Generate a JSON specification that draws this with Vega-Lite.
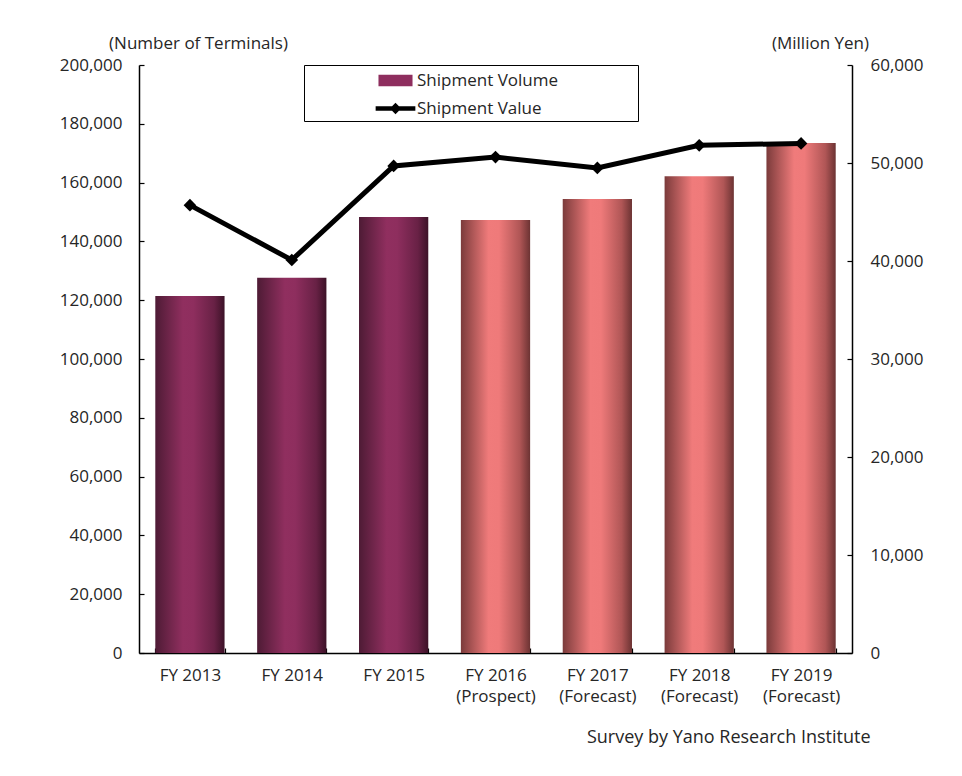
{
  "$schema": "https://vega.github.io/schema/vega-lite/v6.json",
  "width": 713,
  "height": 588,
  "autosize": {"type": "none"},
  "padding": {"left": 139, "top": 65, "right": 110, "bottom": 123},
  "background": "white",
  "data": {
    "values": [
      {"year": "FY 2013", "phase": "Actual", "volume": 121400, "value": 45700},
      {"year": "FY 2014", "phase": "Actual", "volume": 127600, "value": 40100},
      {"year": "FY 2015", "phase": "Actual", "volume": 148300, "value": 49700},
      {"year": "FY 2016|(Prospect)", "phase": "Outlook", "volume": 147300, "value": 50600},
      {"year": "FY 2017|(Forecast)", "phase": "Outlook", "volume": 154400, "value": 49500},
      {"year": "FY 2018|(Forecast)", "phase": "Outlook", "volume": 162200, "value": 51800},
      {"year": "FY 2019|(Forecast)", "phase": "Outlook", "volume": 173500, "value": 52000}
    ]
  },
  "encoding": {
    "x": {
      "field": "year",
      "type": "nominal",
      "sort": null,
      "scale": {"paddingInner": 0.32, "paddingOuter": 0.16},
      "axis": {
        "title": "Survey by Yano Research Institute",
        "titleX": 731,
        "titleY": 89,
        "titleAlign": "right",
        "titleBaseline": "alphabetic",
        "titleAnchor": null,
        "titleFontSize": 18,
        "labelAngle": 0,
        "labelExpr": "split(datum.label, '|')",
        "labelLineHeight": 21,
        "labelPadding": 19,
        "tickBand": "extent",
        "tickSize": -5
      }
    }
  },
  "layer": [
    {
      "encoding": {
        "y": {
          "field": "volume",
          "type": "quantitative",
          "scale": {"domain": [0, 200000], "nice": false},
          "axis": {
            "title": "(Number of Terminals)",
            "titleAngle": 0,
            "titleX": 59,
            "titleY": -17,
            "titleAlign": "center",
            "titleBaseline": "alphabetic",
            "values": [0, 20000, 40000, 60000, 80000, 100000, 120000, 140000, 160000, 180000, 200000],
            "format": ",d",
            "tickSize": -5,
            "labelPadding": 22
          }
        }
      },
      "layer": [
        {
          "transform": [{"filter": "datum.phase === 'Actual'"}],
          "mark": {
            "type": "bar",
            "color": {
              "gradient": "linear",
              "x1": 0, "x2": 1, "y1": 0, "y2": 0,
              "stops": [
                {"offset": 0, "color": "#4E1B35"},
                {"offset": 0.4, "color": "#902F5F"},
                {"offset": 0.55, "color": "#8E2E5E"},
                {"offset": 0.85, "color": "#682145"},
                {"offset": 1, "color": "#3C1227"}
              ]
            }
          }
        },
        {
          "transform": [{"filter": "datum.phase === 'Outlook'"}],
          "mark": {
            "type": "bar",
            "color": {
              "gradient": "linear",
              "x1": 0, "x2": 1, "y1": 0, "y2": 0,
              "stops": [
                {"offset": 0, "color": "#7B3B3B"},
                {"offset": 0.4, "color": "#F07B7B"},
                {"offset": 0.55, "color": "#EF7A7A"},
                {"offset": 0.85, "color": "#B05656"},
                {"offset": 1, "color": "#6C3333"}
              ]
            }
          }
        }
      ]
    },
    {
      "encoding": {
        "y": {
          "field": "value",
          "type": "quantitative",
          "scale": {"domain": [0, 60000], "nice": false},
          "axis": {
            "orient": "right",
            "title": "(Million Yen)",
            "titleAngle": 0,
            "titleX": -32,
            "titleY": -17,
            "titleAlign": "center",
            "titleBaseline": "alphabetic",
            "values": [0, 10000, 20000, 30000, 40000, 50000, 60000],
            "format": ",d",
            "tickSize": -5,
            "labelPadding": 23
          }
        },
        "color": {
          "datum": "Shipment Value",
          "type": "nominal",
          "scale": {"domain": ["Shipment Volume", "Shipment Value"], "range": ["#8E2E5E", "#000000"]},
          "legend": {
            "orient": "none",
            "legendX": 165,
            "legendY": 0,
            "title": null,
            "strokeColor": "#000000",
            "fillColor": "white",
            "padding": 4,
            "symbolOffset": 76,
            "labelOffset": 10,
            "rowPadding": 8,
            "labelFontSize": 17,
            "labelLimit": 400,
            "symbolSize": 515,
            "labelExpr": "datum.label + '\u00a0\u00a0\u00a0\u00a0\u00a0\u00a0\u00a0\u00a0\u00a0\u00a0\u00a0\u00a0\u00a0\u00a0\u00a0\u00a0\u00a0\u200b'",
            "encode": {
              "symbols": {
                "update": {
                  "shape": [
                    {"test": "datum.value === 'Shipment Value'", "value": "M-1.75,-0.2H1.75V0.2H-1.75Z M0,-0.5L0.5,0L0,0.5L-0.5,0Z"},
                    {"value": "M-1.5,-0.5H1.5V0.5H-1.5Z"}
                  ],
                  "fill": [
                    {"test": "datum.value === 'Shipment Value'", "value": "#000000"},
                    {"value": {
                      "gradient": "linear",
                      "x1": 0, "x2": 1, "y1": 0, "y2": 0,
                      "stops": [
                        {"offset": 0, "color": "#4E1B35"},
                        {"offset": 0.45, "color": "#902F5F"},
                        {"offset": 1, "color": "#3C1227"}
                      ]
                    }}
                  ],
                  "stroke": {"value": "transparent"},
                  "strokeWidth": {"value": 0},
                  "opacity": {"value": 1},
                  "fillOpacity": {"value": 1}
                }
              }
            }
          }
        }
      },
      "layer": [
        {"mark": {"type": "line", "strokeWidth": 5}},
        {"mark": {"type": "point", "shape": "diamond", "filled": true, "size": 160, "opacity": 1}}
      ]
    }
  ],
  "resolve": {"scale": {"y": "independent"}},
  "config": {
    "view": {"stroke": null},
    "font": "Open Sans",
    "axis": {
      "labelFont": "Open Sans",
      "labelFontSize": 17,
      "labelColor": "#262626",
      "titleFont": "Open Sans",
      "titleFontSize": 17,
      "titleFontWeight": "normal",
      "titleColor": "#262626",
      "domainColor": "#000000",
      "domainWidth": 1.5,
      "tickColor": "#000000",
      "tickWidth": 1.2,
      "grid": false
    },
    "legend": {
      "labelFont": "Open Sans",
      "labelColor": "#262626"
    }
  }
}
